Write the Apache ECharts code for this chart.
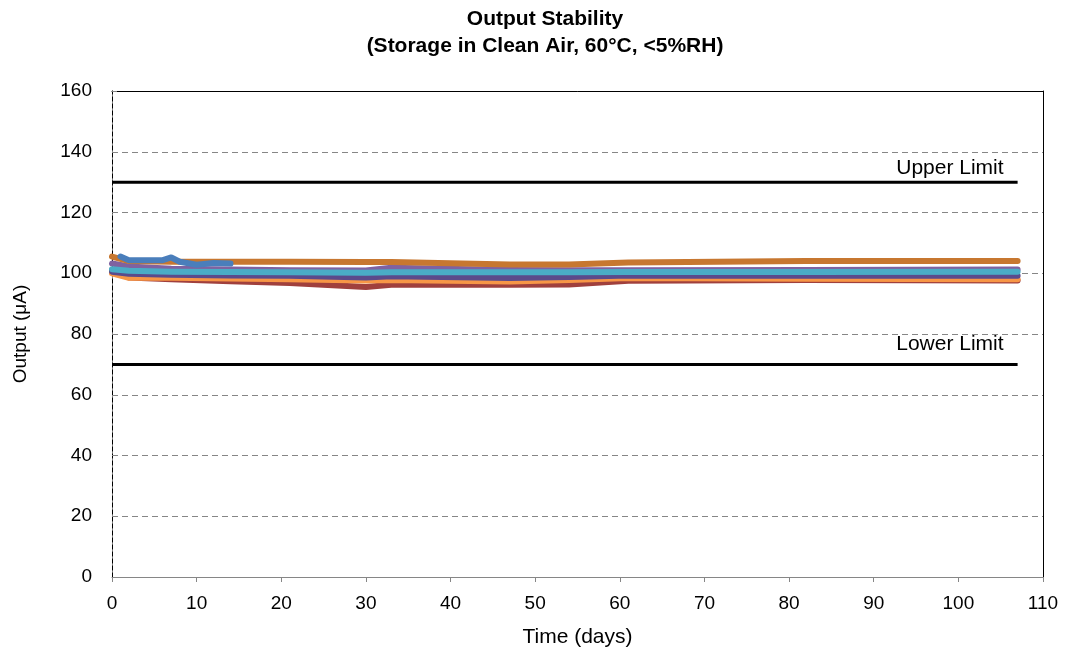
<!DOCTYPE html>
<html>
<head>
<meta charset="utf-8">
<script src="https://cdn.jsdelivr.net/npm/echarts@6/dist/echarts.min.js"></script>
<style>
  html, body { margin: 0; padding: 0; background: #fff; }
  #chart { width: 1067px; height: 654px; }
</style>
</head>
<body>
<div id="chart"></div>
<script>
// Measurement days
const days = [0, 2, 7, 14, 21, 30, 33, 47, 54, 61, 82, 107];
// Early readings of the first sensor (only tested for two weeks)
const sensorADays = [1, 2, 6, 7, 8, 10, 12, 14];
const sensorA = [105.5, 104.3, 104.3, 105.2, 103.8, 102.8, 103.4, 103.2];
// Sensor outputs (µA) on each measurement day
const sensorB = [105.5, 104.0, 103.8, 103.8, 103.8, 103.7, 103.7, 102.9, 102.9, 103.5, 104.0, 104.0];
const sensorC = [103.2, 102.2, 101.5, 101.2, 101.0, 100.9, 101.8, 101.1, 101.0, 101.0, 101.1, 101.2];
const sensorD = [101.3, 100.8, 100.5, 100.4, 100.3, 100.2, 100.3, 100.3, 100.3, 100.4, 100.4, 100.5];
const sensorE = [100.5, 99.8, 99.5, 99.3, 99.2, 98.6, 99.0, 98.4, 98.8, 99.3, 99.2, 99.2];
const sensorF = [100.0, 98.5, 98.5, 98.3, 98.0, 97.6, 97.8, 97.3, 97.8, 98.4, 98.2, 98.0];
const sensorG = [101.0, 98.6, 98.0, 97.4, 96.8, 95.5, 96.2, 96.2, 96.3, 97.5, 97.8, 97.6];
// Specification limits
const limitDays = [0, 107];
const upperLimit = [130, 130];
const lowerLimit = [70, 70];
const limitNames = ['Upper Limit', 'Lower Limit'];

const FONT = '"Liberation Sans", Arial, sans-serif';
const pair = (xs, ys) => xs.map((x, i) => [x, ys[i]]);

function sensorSeries(name, xs, ys, color, z) {
  return {
    name, type: 'line', data: pair(xs, ys), showSymbol: false, symbol: 'none',
    lineStyle: { color, width: 6, cap: 'round', join: 'round' }, z
  };
}

function limitSeries(name, ys, lift) {
  return {
    name, type: 'line', data: pair(limitDays, ys), showSymbol: false, symbol: 'none',
    lineStyle: { color: '#000', width: 3 }, z: 1,
    endLabel: {
      show: true, formatter: name, align: 'right', verticalAlign: 'bottom',
      offset: [-22, -lift], color: '#000', fontFamily: FONT, fontSize: 21
    }
  };
}

const chart = echarts.init(document.getElementById('chart'));
chart.setOption({
  animation: false,
  backgroundColor: '#fff',
  title: {
    text: 'Output Stability\n(Storage in Clean Air, 60°C, <5%RH)',
    left: 540, textAlign: 'center', top: 1,
    textStyle: { fontFamily: FONT, fontWeight: 'bold', fontSize: 21, lineHeight: 27, color: '#000' }
  },
  grid: { left: 112, right: 24, top: 91, bottom: 77 },
  xAxis: [{
    type: 'value', min: 0, max: 110, interval: 10,
    name: 'Time (days)', nameLocation: 'middle', nameGap: 50,
    nameTextStyle: { fontFamily: FONT, fontSize: 21, color: '#000' },
    axisLine: { show: true, onZero: false, lineStyle: { color: '#868686', width: 1 } },
    axisTick: { show: true, length: 5, lineStyle: { color: '#868686' } },
    axisLabel: { fontFamily: FONT, fontSize: 19, color: '#000', margin: 17 },
    splitLine: { show: false }
  }, {
    type: 'value', min: 0, max: 110, position: 'top',
    axisLine: { show: true, onZero: false, lineStyle: { color: '#000', width: 1 } },
    axisTick: { show: false }, axisLabel: { show: false }, splitLine: { show: false }
  }],
  yAxis: [{
    type: 'value', min: 0, max: 160, interval: 20,
    name: 'Output (μA)', nameLocation: 'middle', nameGap: 82,
    nameTextStyle: { fontFamily: FONT, fontSize: 19, color: '#000' },
    axisLine: { show: true, onZero: false, lineStyle: { color: '#868686', width: 1 } },
    axisTick: { show: true, inside: true, length: 5, lineStyle: { color: '#868686' } },
    axisLabel: { fontFamily: FONT, fontSize: 19, color: '#000', margin: 20 },
    splitLine: { show: true, lineStyle: { color: '#868686', type: [6, 4], width: 1 } }
  }, {
    type: 'value', min: 0, max: 160, position: 'right',
    axisLine: { show: true, onZero: false, lineStyle: { color: '#000', width: 1 } },
    axisTick: { show: false }, axisLabel: { show: false }, splitLine: { show: false }
  }, {
    type: 'value', min: 0, max: 160, position: 'left', offset: 0,
    axisLine: { show: true, onZero: false, lineStyle: { color: '#000', width: 1, type: [4, 3] } },
    axisTick: { show: false }, axisLabel: { show: false }, splitLine: { show: false }
  }],
  series: [
    limitSeries(limitNames[0], upperLimit, 3),
    limitSeries(limitNames[1], lowerLimit, 10),
    sensorSeries('G', days, sensorG, '#a0403d', 2),
    sensorSeries('F', days, sensorF, '#f79646', 3),
    sensorSeries('C', days, sensorC, '#7f62a1', 4),
    sensorSeries('E', days, sensorE, '#5b4a8b', 5),
    sensorSeries('D', days, sensorD, '#4aacc6', 6),
    sensorSeries('B', days, sensorB, '#c77730', 7),
    sensorSeries('A', sensorADays, sensorA, '#4a7ebb', 8)
  ]
});
</script>
</body>
</html>
